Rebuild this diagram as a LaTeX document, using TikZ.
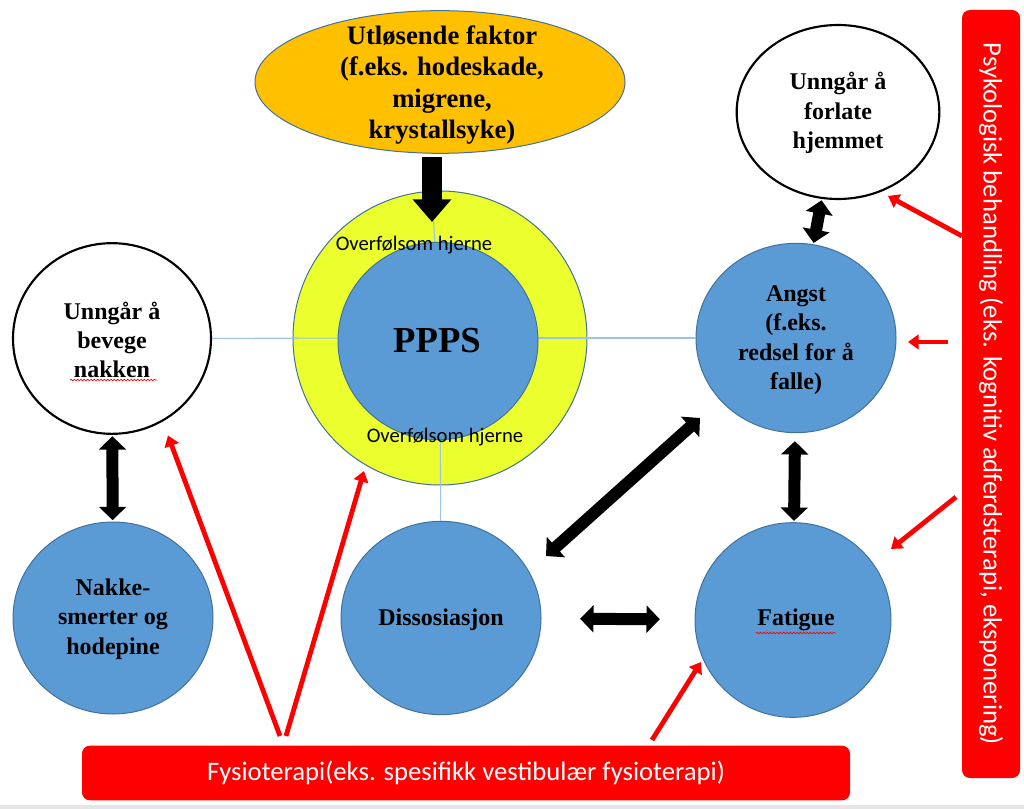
\documentclass[tikz,border=0pt]{standalone}
\usepackage{fontspec}
\setmainfont{Liberation Serif}
\newfontfamily\calfont{Carlito}
\usetikzlibrary{shapes.geometric,arrows.meta,decorations.pathmorphing,calc}
\definecolor{cblue}{HTML}{5B9BD5}
\definecolor{bord}{HTML}{41719C}
\definecolor{cyellow}{HTML}{EBFF2F}
\definecolor{corange}{HTML}{FFC000}
\definecolor{cred}{HTML}{FF0000}
\definecolor{thinblue}{HTML}{9DC3E6}
\tikzset{
  bluenode/.style={ellipse, draw=bord, fill=cblue, line width=0.75pt, inner sep=0pt},
  whitenode/.style={ellipse, draw=black, line width=1.6pt, fill=white, inner sep=0pt},
  lbl/.style={font=\bfseries\fontsize{18}{22}\selectfont, align=center, inner sep=0pt},
  sanslbl/.style={font=\calfont\fontsize{15.5}{17}\selectfont, inner sep=0pt},
  dbl/.style={line width=9pt, {Triangle[width=20pt,length=10pt]}-{Triangle[width=20pt,length=10pt]}},
  redarrow/.style={cred, line width=3.6pt, -{Triangle[width=11pt,length=8pt]}},
  redbox/.style={fill=cred, rounded corners=6pt, inner sep=0pt},
  wavy/.style={cred, line width=0.5pt, decorate, decoration={snake, amplitude=0.6pt, segment length=2.5pt}},
  conn/.style={thinblue, line width=0.8pt}
}
\begin{document}
\begin{tikzpicture}[x=0.75pt,y=-0.75pt]
\useasboundingbox (0,0) rectangle (1024,809);
\fill[white] (0,0) rectangle (1024,809);
\fill[gray!20] (0,805) rectangle (1024,809);

% outer ring
\node[ellipse, draw=bord, fill=cyellow, line width=0.75pt, minimum width=220.5pt, minimum height=220.5pt] (outer) at (440,338) {};

% nodes
\node[whitenode, minimum width=148.5pt, minimum height=143pt] (left) at (112,338.5) {};
\node[whitenode, minimum width=152pt, minimum height=130.5pt] (forlate) at (838,112) {};
\node[bluenode, minimum width=150pt, minimum height=142pt] (angst) at (796,338) {};
\node[bluenode, minimum width=150pt, minimum height=144pt] (nakke) at (113,618) {};
\node[bluenode, minimum width=150pt, minimum height=145pt] (diss) at (441,618) {};
\node[bluenode, minimum width=147pt, minimum height=146pt] (fatigue) at (793,620) {};
\node[ellipse, draw=bord, fill=corange, line width=0.75pt, minimum width=277.5pt, minimum height=107pt] (top) at (440,82) {};

% thin connectors
\coordinate (topin) at (432,192);
\draw[conn] (outer.center) -- (left);
\draw[conn] (outer.center) -- (angst);
\draw[conn] (outer.center) -- (diss);
\draw[conn] (outer.center) -- (topin);

% inner circle
\node[bluenode, minimum width=150pt, minimum height=148pt] (inner) at (438,341) {};

% labels
\node[font=\bfseries\fontsize{20}{23.5}\selectfont, align=center, inner sep=0pt] (toplbl) at (442,85) {Utløsende faktor\\(f.eks. hodeskade,\\migrene,\\krystallsyke)};
\node[font=\bfseries\fontsize{27.5}{30}\selectfont, inner sep=0pt] (ppps) at (437,341) {PPPS};
\node[sanslbl] (ov1) at (414,245) {Overfølsom hjerne};
\node[sanslbl] (ov2) at (445,437) {Overfølsom hjerne};
\node[lbl] (leftlbl) at (112,340) {Unngår å\\bevege\\nakken};
\node[lbl] (forlbl) at (838,113) {Unngår å\\forlate\\hjemmet};
\node[lbl] (angstlbl) at (796,340) {Angst\\(f.eks.\\redsel for å\\falle)};
\node[lbl] (nakkelbl) at (113,619) {Nakke-\\smerter og\\hodepine};
\node[lbl] (disslbl) at (441,620) {Dissosiasjon};
\node[lbl] (fatlbl) at (796,620) {Fatigue};

% spell-check underlines
\draw[wavy] (70,380) -- (157,380);
\draw[wavy] (756,633) -- (836,633);

% top arrow
\coordinate (ta) at (432,157);
\coordinate (tb) at (432,222);
\draw[line width=14.5pt, -{Triangle[width=28pt,length=17pt]}] (ta) -- (tb);

% double arrows
\draw[dbl, shorten <=1pt, shorten >=1pt] (left) -- (nakke);
\draw[dbl, shorten <=1pt, shorten >=1pt] (forlate) -- (angst);
\draw[dbl, shorten <=6pt, shorten >=1pt] (angst) -- (fatigue);
\draw[dbl, shorten <=29pt, shorten >=26pt] (diss) -- (fatigue);
\coordinate (da) at ($(diss.center)+(105,-62)$);
\coordinate (db) at ($(angst.center)+(-96,80)$);
\draw[dbl] (da) -- (db);

% red boxes
\node[redbox, minimum width=576pt, minimum height=41pt] (fysio) at (466,773) {};
\node[font=\calfont\fontsize{20}{22}\selectfont, text=white, inner sep=0pt] (fysiolbl) at (466,773) {Fysioterapi(eks. spesifikk vestibulær fysioterapi)};
\draw[wavy, line width=0.4pt] (337,789) -- (414,789);
\node[redbox, minimum width=43.5pt, minimum height=576pt] (psyk) at (991,394) {};
\node[font=\calfont\fontsize{20}{22}\selectfont, text=white, inner sep=0pt, rotate=-90] (psyklbl) at (991,394) {Psykologisk behandling (eks. kognitiv adferdsterapi, eksponering)};

% red arrows
\coordinate (f1) at (280,736);
\coordinate (f1t) at ($(left.center)+(56,97)$);
\coordinate (f2) at (286,736);
\coordinate (f2t) at ($(outer.center)+(-76,133)$);
\coordinate (f3) at (652,740);
\coordinate (f3t) at ($(fatigue.center)+(-92,42)$);
\coordinate (p1) at (962,236);
\coordinate (p1t) at ($(forlate.center)+(50,84)$);
\coordinate (p2) at (948,342);
\coordinate (p2t) at ($(angst.center)+(112,4)$);
\coordinate (p3) at (956,497);
\coordinate (p3t) at ($(fatigue.center)+(98,-71)$);
\draw[redarrow] (f1) -- (f1t);
\draw[redarrow] (f2) -- (f2t);
\draw[redarrow] (f3) -- (f3t);
\draw[redarrow] (p1) -- (p1t);
\draw[redarrow] (p2) -- (p2t);
\draw[redarrow] (p3) -- (p3t);
\end{tikzpicture}
\end{document}
